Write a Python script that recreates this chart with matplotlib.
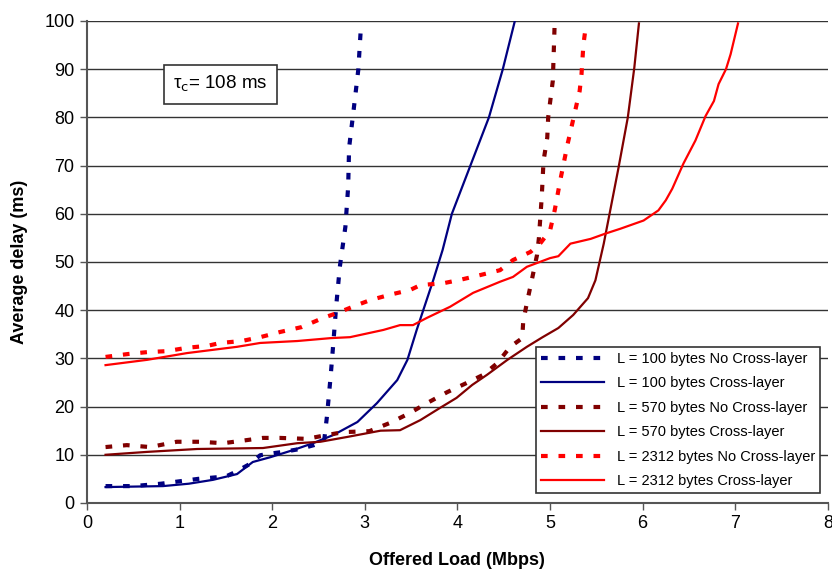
import matplotlib
matplotlib.use("Agg")
import matplotlib.pyplot as plt

plt.rcParams['font.family'] = ['Liberation Sans', 'DejaVu Sans']

# L=100 bytes No Cross-layer
x100n = [0.2, 0.5, 0.8, 1.0, 1.2, 1.5, 1.6, 1.75, 1.87, 2.0, 2.12, 2.3, 2.45, 2.56, 2.59, 2.63, 2.66, 2.69, 2.73, 2.79, 2.82, 2.83, 2.88, 2.93, 2.96]
y100n = [3.5, 3.5, 4.0, 4.5, 5.0, 5.5, 6.4, 8.0, 9.9, 10.3, 10.6, 11.2, 12.0, 12.8, 17.8, 26.1, 33.2, 40.7, 49.0, 57.3, 65.6, 73.7, 81.7, 90.0, 99.5]

# L=100 bytes Cross-layer
x100c = [0.2, 0.82, 1.1, 1.36, 1.62, 1.79, 1.98, 2.23, 2.44, 2.66, 2.92, 3.13, 3.35, 3.46, 3.56, 3.65, 3.74, 3.84, 3.94, 4.14, 4.34, 4.49, 4.62]
y100c = [3.3, 3.5, 4.0, 4.8, 6.0, 8.5, 9.5, 11.0, 12.4, 14.1, 16.8, 20.7, 25.5, 29.7, 35.9, 41.1, 46.3, 52.5, 60.0, 70.0, 80.0, 90.0, 100.0]

# L=570 bytes No Cross-layer
x570n = [0.2, 0.43, 0.68, 0.97, 1.22, 1.47, 1.67, 1.9, 2.08, 2.37, 2.59, 2.77, 3.05, 3.27, 3.49, 3.65, 3.89, 4.1, 4.28, 4.43, 4.57, 4.7, 4.71, 4.75, 4.81, 4.86, 4.88, 4.91, 4.93, 4.97, 4.98, 5.03, 5.05]
y570n = [11.6, 12.0, 11.6, 12.7, 12.7, 12.4, 12.9, 13.5, 13.5, 13.3, 14.1, 14.7, 14.9, 16.6, 18.7, 20.5, 23.0, 24.9, 26.6, 29.0, 32.4, 34.2, 37.6, 41.5, 46.9, 51.5, 55.0, 63.4, 71.0, 75.8, 80.0, 87.6, 99.5]

# L=570 bytes Cross-layer
x570c = [0.2, 0.65, 1.19, 1.9, 2.27, 2.52, 2.81, 3.17, 3.38, 3.6, 3.81, 3.99, 4.16, 4.32, 4.54, 4.75, 4.92, 5.09, 5.25, 5.41, 5.49, 5.58, 5.65, 5.74, 5.84, 5.91, 5.96]
y570c = [10.0, 10.6, 11.2, 11.4, 12.4, 12.7, 13.7, 15.0, 15.1, 17.2, 19.7, 21.8, 24.5, 26.6, 29.7, 32.4, 34.4, 36.3, 39.0, 42.5, 46.2, 53.8, 60.7, 69.6, 80.0, 90.3, 99.5]

# L=2312 bytes No Cross-layer
x2312n = [0.2, 0.44, 0.65, 0.86, 1.08, 1.3, 1.44, 1.67, 1.87, 2.09, 2.32, 2.55, 2.7, 2.92, 3.06, 3.27, 3.49, 3.6, 3.85, 4.03, 4.25, 4.46, 4.6, 4.79, 4.9, 5.0, 5.05, 5.11, 5.19, 5.24, 5.32, 5.34, 5.36, 5.39]
y2312n = [30.3, 30.9, 31.3, 31.5, 32.2, 32.6, 33.2, 33.6, 34.4, 35.5, 36.5, 38.4, 39.4, 41.1, 42.1, 43.2, 44.2, 45.2, 45.6, 46.3, 47.3, 48.3, 50.4, 52.1, 54.0, 56.5, 60.7, 66.9, 74.5, 78.7, 85.5, 89.0, 95.0, 99.5]

# L=2312 bytes Cross-layer
x2312c = [0.2, 0.65, 1.08, 1.62, 1.87, 2.27, 2.63, 2.84, 3.2, 3.38, 3.52, 3.67, 3.92, 4.17, 4.46, 4.6, 4.75, 5.0, 5.09, 5.22, 5.44, 5.6, 5.76, 6.01, 6.17, 6.25, 6.32, 6.44, 6.57, 6.68, 6.77, 6.82, 6.9, 6.95, 7.03]
y2312c = [28.6, 29.7, 31.1, 32.4, 33.2, 33.6, 34.2, 34.4, 35.9, 36.9, 36.9, 38.4, 40.7, 43.6, 45.9, 46.9, 49.0, 50.8, 51.2, 53.8, 54.8, 55.9, 56.9, 58.6, 60.7, 62.8, 65.2, 70.4, 75.2, 80.3, 83.4, 86.9, 90.0, 93.1, 99.5]

labels = ['L = 100 bytes No Cross-layer', 'L = 100 bytes Cross-layer',
          'L = 570 bytes No Cross-layer', 'L = 570 bytes Cross-layer',
          'L = 2312 bytes No Cross-layer', 'L = 2312 bytes Cross-layer']
xticks = [0, 1, 2, 3, 4, 5, 6, 7, 8]
yticks = [0, 10, 20, 30, 40, 50, 60, 70, 80, 90, 100]

navy = '#000080'
maroon = '#800000'
red = '#FF0000'

fig = plt.figure(figsize=(8.32, 5.78), dpi=100)
ax = fig.add_axes([0.1046, 0.1298, 0.8904, 0.8339])

dash = (0, (1.6, 2.6))
ax.plot(x100n, y100n, color=navy, lw=3, linestyle=dash, label=labels[0], zorder=3)
ax.plot(x100c, y100c, color=navy, lw=1.6, label=labels[1], zorder=3)
ax.plot(x570n, y570n, color=maroon, lw=3, linestyle=dash, label=labels[2], zorder=3)
ax.plot(x570c, y570c, color=maroon, lw=1.6, label=labels[3], zorder=3)
ax.plot(x2312n, y2312n, color=red, lw=3, linestyle=dash, label=labels[4], zorder=3)
ax.plot(x2312c, y2312c, color=red, lw=1.6, label=labels[5], zorder=3)

ax.set_xlim(0, 8)
ax.set_ylim(0, 100)
ax.set_xticks(xticks)
ax.set_yticks(yticks)
ax.yaxis.grid(True, color='#333333', lw=1)
ax.set_axisbelow(True)
for s in ['top', 'right']:
    ax.spines[s].set_visible(False)
for s in ['left', 'bottom']:
    ax.spines[s].set_color('#555555')
    ax.spines[s].set_linewidth(1.5)
ax.tick_params(axis='both', direction='out', length=5, width=1, color='#555555',
               labelsize=13, pad=4)

ax.set_xlabel('Offered Load (Mbps)', fontsize=13, fontweight='bold', labelpad=14)
ax.set_ylabel('Average delay (ms)', fontsize=13, fontweight='bold', labelpad=12)

ax.text(0.18, 0.869, 'τ$_{\\rm c}$= 108 ms', transform=ax.transAxes, fontsize=13.5,
        va='center', ha='center',
        bbox=dict(boxstyle='square,pad=0.5', fc='white', ec='#333333', lw=1.2))

leg = ax.legend(loc='lower right', bbox_to_anchor=(0.99, 0.02), fontsize=10.5, frameon=True,
                fancybox=False, edgecolor='#333333', framealpha=1, handlelength=4.3,
                borderpad=0.35, labelspacing=0.72, handletextpad=0.9, borderaxespad=0)
leg.get_frame().set_linewidth(1.2)

fig.savefig('out.png', dpi=100)
